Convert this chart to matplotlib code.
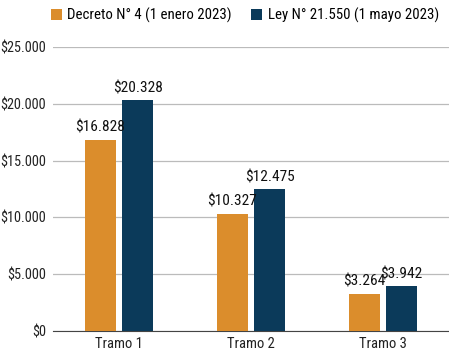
import matplotlib
matplotlib.use("Agg")
import matplotlib.pyplot as plt
from matplotlib import font_manager
import numpy as np

categories = ["Tramo 1", "Tramo 2", "Tramo 3"]
series_names = ["Decreto N° 4 (1 enero 2023)", "Ley N° 21.550 (1 mayo 2023)"]
decreto = [16828, 10327, 3264]
ley = [20328, 12475, 3942]
yticks = [0, 5000, 10000, 15000, 20000, 25000]

names = {f.name for f in font_manager.fontManager.ttflist}
fam, k = "Liberation Sans", 1.0
for cand in ["Liberation Sans Narrow", "DejaVu Sans Condensed", "Roboto Condensed", "Open Sans Condensed"]:
    if cand in names:
        fam, k = cand, 1.12
        break
plt.rcParams['font.family'] = [fam, 'DejaVu Sans']

def fmt(v):
    return "$" + f"{v:,}".replace(",", ".")

fig = plt.figure(figsize=(4.49, 3.54), dpi=100)
ax = fig.add_axes([0.118, 0.065, 0.882, 0.802])
x = np.arange(len(categories))
w = 0.235
off = 0.142
c1, c2 = "#DB8D2C", "#0B3A5A"
b1 = ax.bar(x - off, decreto, w, color=c1, label=series_names[0], zorder=3)
b2 = ax.bar(x + off, ley, w, color=c2, label=series_names[1], zorder=3)
for bars, vals in ((b1, decreto), (b2, ley)):
    for r, v in zip(bars, vals):
        ax.text(r.get_x() + r.get_width() / 2, v + 450, fmt(v), ha="center", va="bottom",
                fontsize=9.9 * k, color="#111111", fontweight="normal")
ax.set_xlim(-0.5, 2.5)
ax.set_ylim(0, 25000)
ax.set_yticks(yticks)
ax.set_yticklabels([fmt(v) for v in yticks], fontsize=9.2 * k, color="#222222")
ax.set_xticks(x)
ax.set_xticklabels(categories, fontsize=9.4 * k, color="#222222")
ax.grid(axis="y", color="#BBBBBB", linewidth=0.9, zorder=0)
for s in ["top", "right", "left"]:
    ax.spines[s].set_visible(False)
ax.spines["bottom"].set_color("#444444")
ax.tick_params(axis="x", length=0, pad=4)
ax.tick_params(axis="y", length=0, pad=5)
fig.legend(handles=[b1, b2], labels=series_names, loc="upper center", bbox_to_anchor=(0.545, 1.015),
           ncol=2, frameon=False, fontsize=9.6 * k, handlelength=0.75, handleheight=0.75,
           handletextpad=0.35, columnspacing=1.3)
fig.savefig("out.png", dpi=100)
